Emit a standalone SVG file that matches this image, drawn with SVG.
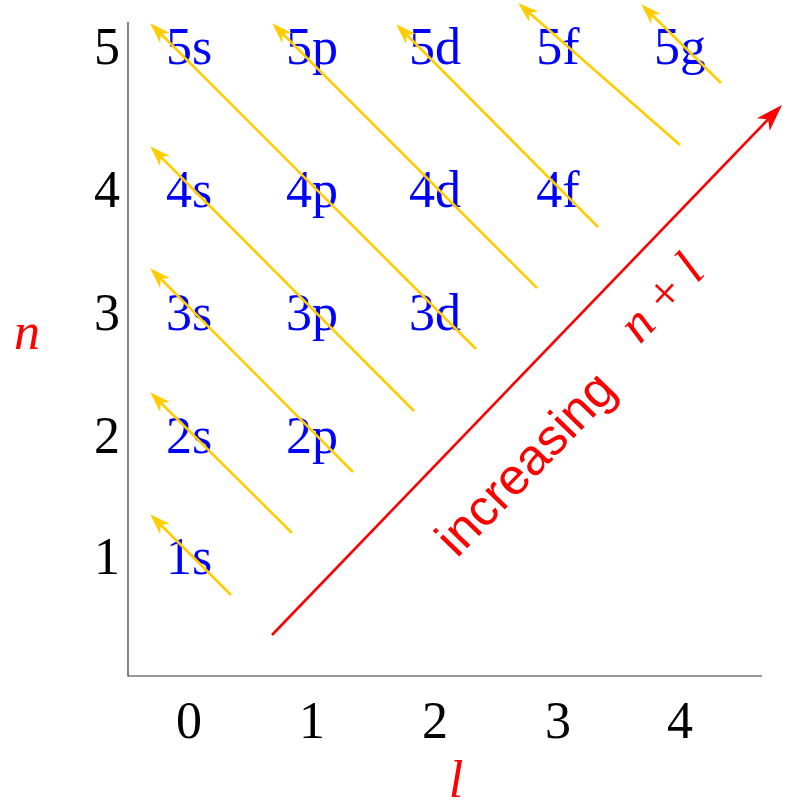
<svg xmlns="http://www.w3.org/2000/svg" width="793" height="808" viewBox="0 0 793 808">
<style>
.num{font-family:"Liberation Serif","Times New Roman",serif;font-size:52px;fill:#000;text-anchor:middle}
.orb{font-family:"Liberation Serif","Times New Roman",serif;font-size:52px;fill:#0000ff;text-anchor:middle}
.var{font-family:"Liberation Serif","Times New Roman",serif;font-size:52px;font-style:italic;fill:#ff0000;text-anchor:middle}
.ya{fill:none;stroke:#ffcc00;stroke-width:2.6;marker-end:url(#ay)}
.axis{fill:none;stroke:#333;stroke-width:1.2}
</style>
<defs>
<marker id="ay" markerUnits="userSpaceOnUse" orient="auto" overflow="visible" refX="-4" refY="0" markerWidth="1" markerHeight="1">
<path d="M0,0 L-21,-7 L-15,0 L-21,7 Z" fill="#ffcc00"/>
</marker>
<marker id="ar" markerUnits="userSpaceOnUse" orient="auto" overflow="visible" refX="-5" refY="0" markerWidth="1" markerHeight="1">
<path d="M0,0 L-27,-9 L-20,0 L-27,9 Z" fill="#ff0000"/>
</marker>
</defs>
<rect width="793" height="808" fill="#fff"/>
<g id="axes">
<path class="axis" d="M128,22 V676 H762"/>
</g>
<g id="n-ticks">
<text class="num" x="107" y="64">5</text>
<text class="num" x="107" y="207">4</text>
<text class="num" x="107" y="330">3</text>
<text class="num" x="107" y="453">2</text>
<text class="num" x="107" y="574">1</text>
</g>
<g id="l-ticks">
<text class="num" x="189" y="738">0</text>
<text class="num" x="312" y="738">1</text>
<text class="num" x="435" y="738">2</text>
<text class="num" x="558" y="738">3</text>
<text class="num" x="680" y="738">4</text>
</g>
<g id="axis-labels">
<text class="var" x="27" y="349">n</text>
<text class="var" x="456" y="797">l</text>
</g>
<g id="orbitals">
<g id="o5s"><text class="orb" x="189" y="64">5s</text></g>
<g id="o5p"><text class="orb" x="312" y="64">5p</text></g>
<g id="o5d"><text class="orb" x="435" y="64">5d</text></g>
<g id="o5f"><text class="orb" x="558" y="64">5f</text></g>
<g id="o5g"><text class="orb" x="680" y="64">5g</text></g>
<g id="o4s"><text class="orb" x="189" y="207">4s</text></g>
<g id="o4p"><text class="orb" x="312" y="207">4p</text></g>
<g id="o4d"><text class="orb" x="435" y="207">4d</text></g>
<g id="o4f"><text class="orb" x="558" y="207">4f</text></g>
<g id="o3s"><text class="orb" x="189" y="330">3s</text></g>
<g id="o3p"><text class="orb" x="312" y="330">3p</text></g>
<g id="o3d"><text class="orb" x="435" y="330">3d</text></g>
<g id="o2s"><text class="orb" x="189" y="453">2s</text></g>
<g id="o2p"><text class="orb" x="312" y="453">2p</text></g>
<g id="o1s"><text class="orb" x="189" y="574">1s</text></g>
</g>
<g id="connectors">
<path class="ya" d="M231,595 L153,517"/>
<path class="ya" d="M292,533 L153,395"/>
<path class="ya" d="M353,472 L153,271"/>
<path class="ya" d="M414,411 L153,149"/>
<path class="ya" d="M476,349 L153,26"/>
<path class="ya" d="M537,288 L275,26"/>
<path class="ya" d="M598,227 L399,27"/>
<path class="ya" d="M680,145 L521,5.6"/>
<path class="ya" d="M721,83 L644,7"/>
<path d="M272,635 L778.5,108.6" fill="none" stroke="#ff0000" stroke-width="2.6" marker-end="url(#ar)"/>
</g>
<g id="trend-label" fill="#ff0000">
<text transform="translate(457,559) rotate(-46)" font-family="'Liberation Sans',Arial,sans-serif" font-size="51">increasing</text>
<text transform="translate(640,345) rotate(-47)" font-family="'Liberation Serif','Times New Roman',serif" font-size="52"><tspan font-style="italic">n</tspan><tspan dx="14">+</tspan><tspan dx="14" font-style="italic">l</tspan></text>
</g>
</svg>
